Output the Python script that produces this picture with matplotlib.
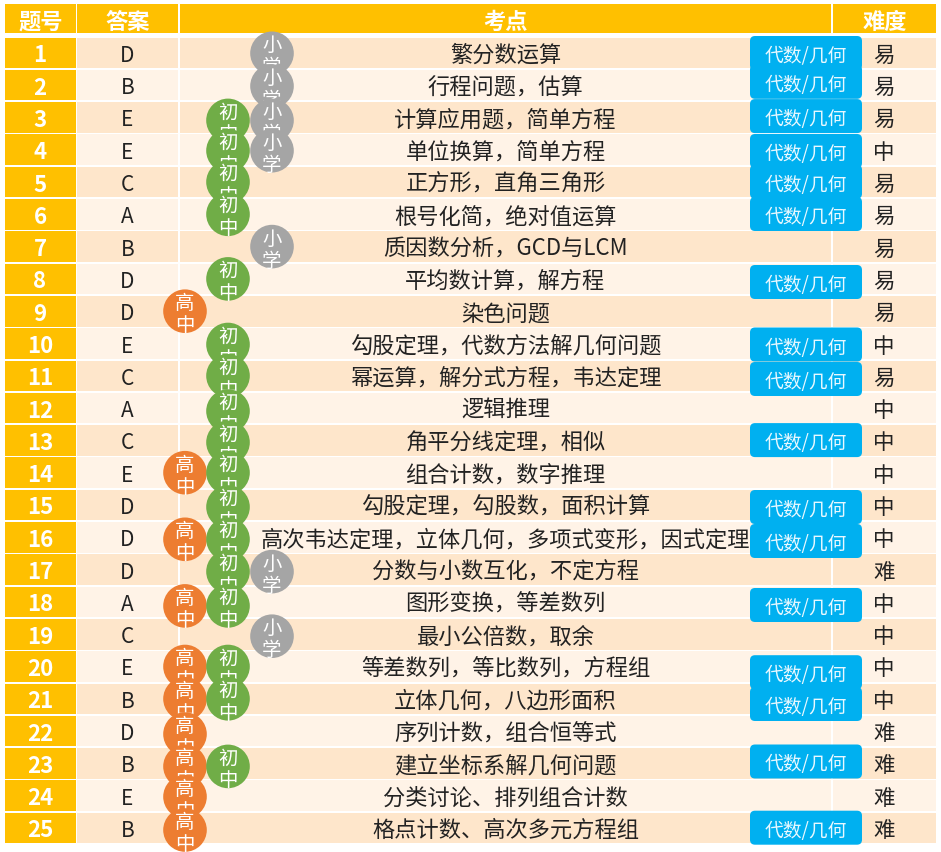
import matplotlib
matplotlib.use("Agg")
import matplotlib.pyplot as plt
from matplotlib.patches import Circle, FancyBboxPatch

plt.rcParams['font.family'] = ['Noto Sans CJK SC', 'DejaVu Sans']

headers = ["题号", "答案", "考点", "难度"]
numbers = list(range(1, 26))
answers = list("DBEECABDDECACEDDDACEBDBEB")
topics = [
    "繁分数运算", "行程问题，估算", "计算应用题，简单方程", "单位换算，简单方程",
    "正方形，直角三角形", "根号化简，绝对值运算", "质因数分析，GCD与LCM",
    "平均数计算，解方程", "染色问题", "勾股定理，代数方法解几何问题",
    "幂运算，解分式方程，韦达定理", "逻辑推理", "角平分线定理，相似", "组合计数，数字推理",
    "勾股定理，勾股数，面积计算", "高次韦达定理，立体几何，多项式变形，因式定理",
    "分数与小数互化，不定方程", "图形变换，等差数列", "最小公倍数，取余",
    "等差数列，等比数列，方程组", "立体几何，八边形面积", "序列计数，组合恒等式",
    "建立坐标系解几何问题", "分类讨论、排列组合计数", "格点计数、高次多元方程组",
]
difficulty = list("易易易中易易易易易中易中中中中中难中中中中难难难难")
gaokao_rows = [9, 14, 16, 18, 20, 21, 22, 23, 24, 25]   # 高中
chuzhong_rows = [3, 4, 5, 6, 8, 10, 11, 12, 13, 14, 15, 16, 17, 18, 20, 21, 23]  # 初中
xiaoxue_rows = [1, 2, 3, 4, 7, 17, 19]  # 小学
algebra_geometry_rows = [1, 2, 3, 4, 5, 6, 8, 10, 11, 13, 15, 16, 18, 20, 21, 23, 25]
badge_label = "代数/几何"

# layout (pixels)
W, H = 941, 853
ROW0, PITCH = 53.8, 32.3
ROW_H = 30.6
COLS = [(5, 75.7), (77, 178.3), (180, 831), (833, 936)]
CIRCLE_NUDGE = [0.5, 1, 3, 1, 0, 0, 0, 0, 0, 1, 0, 3, 2, 0, 2, 2, 2, 4, 2, 0, 0, 3, 3, 1, 2]
BADGE_NUDGE = {1: .5, 2: -3, 3: -1, 4: 1.6, 5: 0, 6: 0, 8: 3.4, 10: 1.3, 11: 3.5, 13: 0, 15: 2.3,
               16: 4, 18: 3.4, 20: 6, 21: 5.5, 23: -1.6, 25: 0}
GOLD, ODD, EVEN = '#FFC000', '#FEE6CB', '#FFF3E7'
ORANGE, GREEN, GREY, BLUE = '#ED7D31', '#70AD47', '#A5A5A5', '#00B0F0'
INK = '#222222'

fig = plt.figure(figsize=(W / 100, H / 100), dpi=100, facecolor='white')
ax = fig.add_axes([0, 0, 1, 1])
ax.set_xlim(0, W)
ax.set_ylim(H, 0)
ax.axis('off')


def row_y(n):
    return ROW0 + PITCH * (n - 1)


# header
for (x0, x1), label in zip(COLS, headers):
    ax.barh(19.5, x1 - x0, left=x0, height=29, color=GOLD, linewidth=0, zorder=1)
    ax.text((x0 + x1) / 2, 19.5, label, ha='center', va='center_baseline', color='white',
            fontsize=16, fontweight='bold', zorder=2)

# body
for n, ans, topic, diff in zip(numbers, answers, topics, difficulty):
    y = row_y(n)
    fill = ODD if n % 2 else EVEN
    for i, (x0, x1) in enumerate(COLS):
        ax.barh(y, x1 - x0, left=x0, height=ROW_H, color=GOLD if i == 0 else fill,
                linewidth=0, zorder=1)
    ax.text(40, y - .5, str(n), ha='center', va='center_baseline', color='white',
            fontsize=16, fontweight='bold', zorder=2)
    ax.text(127.5, y - .5, ans, ha='center', va='center_baseline', color=INK, fontsize=15, zorder=2)
    ax.text(505.5, y - 1, topic, ha='center', va='center_baseline', color=INK, fontsize=16, zorder=2)
    ax.text(884, y - .5, diff, ha='center', va='center_baseline', color=INK, fontsize=15.5, zorder=2)

# level circles: later rows cover earlier ones
levels = [(gaokao_rows, 185, ORANGE, "高中"), (chuzhong_rows, 228, GREEN, "初中"),
          (xiaoxue_rows, 272, GREY, "小学")]
for n in numbers:
    z = 10 + n
    cy = row_y(n) + CIRCLE_NUDGE[n - 1]
    for rows, cx, color, label in levels:
        if n in rows:
            ax.add_patch(Circle((cx, cy), 21.8, facecolor=color, edgecolor='none', zorder=z))
            ax.text(cx, cy - 11, label[0], ha='center', va='center_baseline', color='white',
                    fontsize=14, zorder=z + .5)
            ax.text(cx, cy + 11, label[1], ha='center', va='center_baseline', color='white',
                    fontsize=14, zorder=z + .5)

# badges
for n in algebra_geometry_rows:
    cy = row_y(n) + BADGE_NUDGE[n] - .3
    ax.add_patch(FancyBboxPatch((755, cy - 12), 102, 24, boxstyle='round,pad=5,rounding_size=5',
                                facecolor=BLUE, edgecolor='none', zorder=50 + n))
    ax.text(806, cy, badge_label, ha='center', va='center_baseline', color='#E8F8FF',
            fontsize=13.5, zorder=50.5 + n)

fig.savefig('out.png', dpi=100, facecolor='white')
